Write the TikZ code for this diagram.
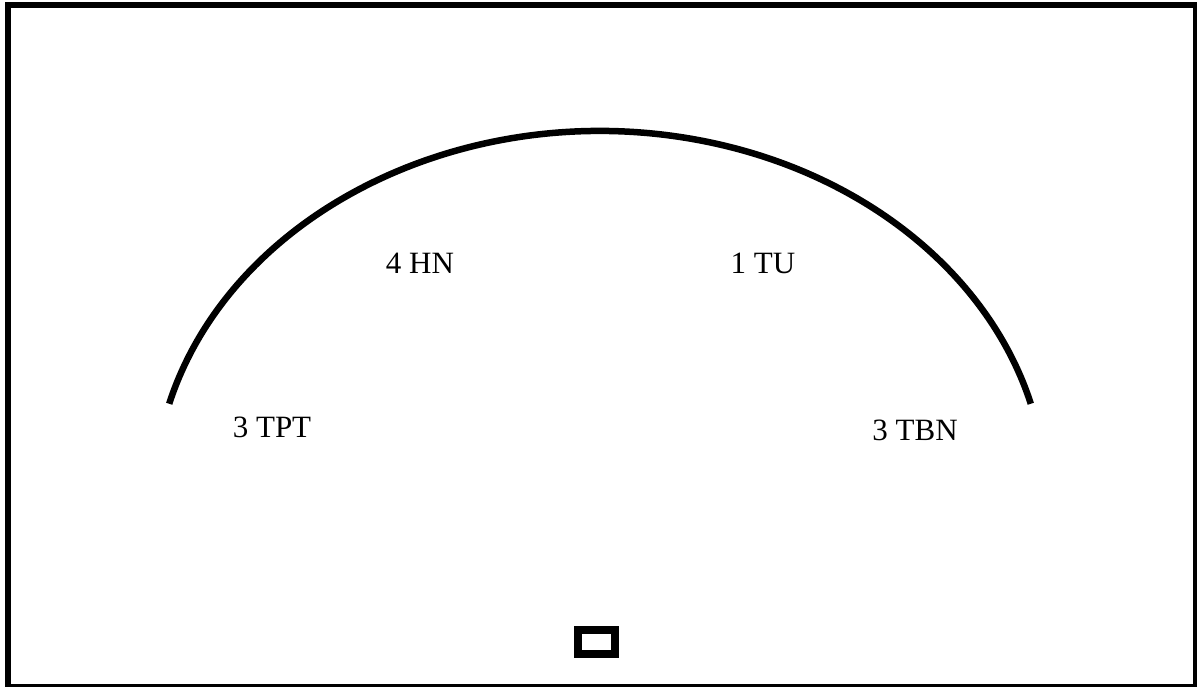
\documentclass[tikz,border=0pt]{standalone}
\usepackage{fontspec}
\setmainfont{Liberation Serif}
\usetikzlibrary{positioning,calc}

\begin{document}
\begin{tikzpicture}[
    x=1pt, y=-1pt,
    lbl/.style={anchor=base, inner sep=0pt, font=\fontsize{31}{34}\selectfont},
    rim/.style={line width=6.5pt, draw=black},
    frame/.style={line width=6pt, draw=black}
]
    \useasboundingbox (0,0) rectangle (1197,686);
    \clip (0,0) rectangle (1197,686);
    \draw [frame] (8,4.5) rectangle (1196,687);

    % the arc and its labels
    \coordinate (c) at (600,499);
    \draw [rim] ([shift={(-165:446 and 368)}]c) arc [start angle=-165, end angle=-15, x radius=446, y radius=368];

    \node [lbl] (tpt) at (272,437) {3 TPT};
    \node [lbl] (hn) at (420,273) {4 HN};
    \node [lbl] (tu) at (763,273) {1 TU};
    \node [lbl] (tbn) at (915,440) {3 TBN};

    \draw [line width=8pt] (578,630) rectangle (615,654);
\end{tikzpicture}
\end{document}
